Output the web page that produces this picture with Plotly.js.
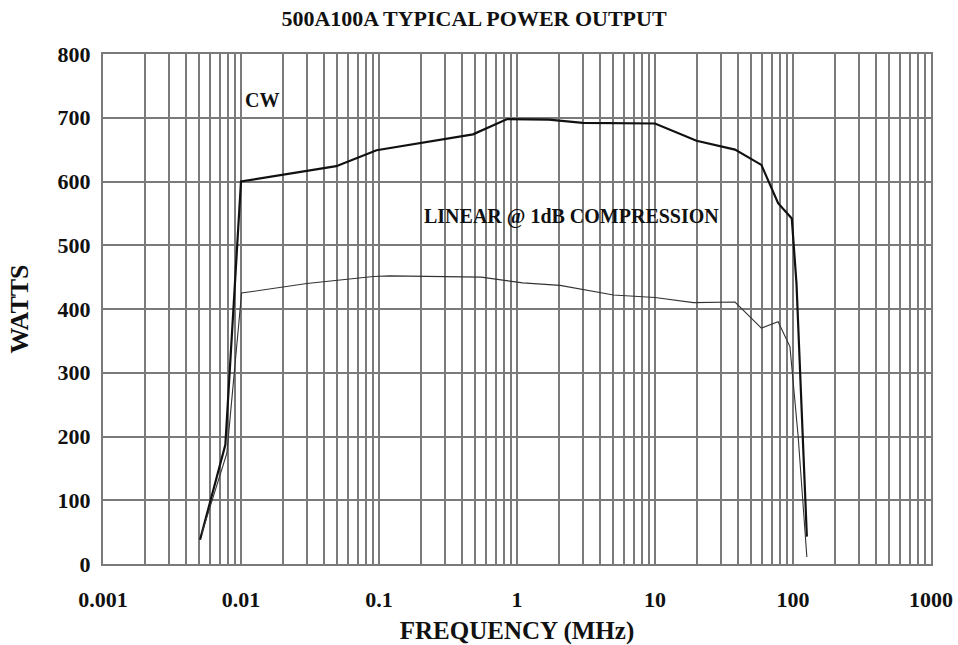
<!DOCTYPE html>
<html>
<head>
<meta charset="utf-8">
<script src="https://cdn.plot.ly/plotly-3.0.1.min.js"></script>
<style>html,body{margin:0;padding:0;background:#fff;}#chart{width:958px;height:645px;}</style>
</head>
<body>
<div id="chart"></div>
<script>
// Frequency (MHz) and output power (W)
const cwFreq  = [0.00505, 0.0077, 0.0100, 0.049, 0.096, 0.48, 0.85, 1.7, 3.0, 10, 20, 38, 59, 78, 98, 106, 126];
const cwWatts = [38, 187, 600, 624, 649, 674, 698, 697, 692, 691, 664, 650, 626, 566, 542, 440, 43];

const linFreq  = [0.0052, 0.0079, 0.0101, 0.030, 0.091, 0.12, 0.55, 1.1, 2.05, 5.0, 10, 19, 38, 59, 78, 95, 109, 126];
const linWatts = [48, 174, 425, 440, 451, 452, 450, 441, 437, 422, 418, 410, 411, 370, 380, 341, 200, 11];

const xTickVals = [0.001, 0.01, 0.1, 1, 10, 100, 1000];
const xTickText = ['0.001', '0.01', '0.1', '1', '10', '100', '1000'];
const yTickVals = [0, 100, 200, 300, 400, 500, 600, 700, 800];

const serif = '"Liberation Serif", "Times New Roman", serif';
const gridCol = '#7a7a7a';
const gridW = 2;

const traces = [
  {x: cwFreq, y: cwWatts, type: 'scatter', mode: 'lines', name: 'CW',
   line: {color: '#111', width: 2.2}},
  {x: linFreq, y: linWatts, type: 'scatter', mode: 'lines', name: 'LINEAR @ 1dB COMPRESSION',
   line: {color: '#333', width: 1.1}}
];

const layout = {
  width: 958, height: 645,
  margin: {l: 103, r: 27, t: 54, b: 81},
  paper_bgcolor: '#fff', plot_bgcolor: '#fff',
  showlegend: false,
  font: {family: serif, color: '#111'},
  title: {text: '<b>500A100A TYPICAL POWER OUTPUT</b>', font: {family: serif, size: 22, color: '#111'},
          x: 474 / 958, xanchor: 'center', xref: 'container', y: 1 - 18 / 645, yanchor: 'middle', yref: 'container'},
  xaxis: {
    type: 'log', range: [-3, 3],
    tickmode: 'array', tickvals: xTickVals, ticktext: xTickText.map(t => '<b>' + t + '</b>'),
    tickfont: {family: serif, size: 22, color: '#111'},
    ticks: '', ticklabelstandoff: 15,
    showgrid: true, gridcolor: gridCol, gridwidth: gridW,
    minor: {dtick: 'D1', showgrid: true, gridcolor: gridCol, gridwidth: gridW, ticks: ''},
    showline: true, linecolor: gridCol, linewidth: gridW, mirror: true,
    zeroline: false,
    title: {text: '<b>FREQUENCY (MHz)</b>', font: {family: serif, size: 25, color: '#111'}, standoff: 11}
  },
  yaxis: {
    range: [0, 800],
    tickmode: 'array', tickvals: yTickVals, ticktext: yTickVals.map(v => '<b>' + v + '</b>'),
    tickfont: {family: serif, size: 22, color: '#111'},
    ticks: '', ticklabelstandoff: 6,
    showgrid: true, gridcolor: gridCol, gridwidth: gridW,
    showline: true, linecolor: gridCol, linewidth: gridW, mirror: true,
    zeroline: false,
    title: {text: '<b>WATTS</b>', font: {family: serif, size: 26, color: '#111'}, standoff: 21}
  },
  annotations: [
    {x: Math.log10(0.0104), y: 728, xref: 'x', yref: 'y', text: '<b>CW</b>', showarrow: false,
     xanchor: 'left', yanchor: 'middle', font: {family: serif, size: 20, color: '#111'}},
    {x: Math.log10(2.49), y: 545, xref: 'x', yref: 'y', text: '<b>LINEAR @ 1dB COMPRESSION</b>', showarrow: false,
     xanchor: 'center', yanchor: 'middle', font: {family: serif, size: 20, color: '#111'}}
  ]
};

Plotly.newPlot('chart', traces, layout, {displayModeBar: false, staticPlot: true});
</script>
</body>
</html>
